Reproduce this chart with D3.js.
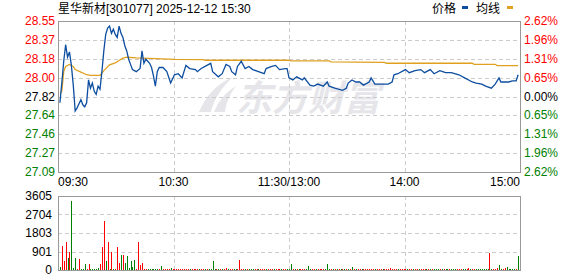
<!DOCTYPE html>
<html>
<head>
<meta charset="utf-8">
<style>
  body { margin: 0; background: #fff; }
  svg text { font-family: "Liberation Sans", Arial, "Noto Sans CJK SC", sans-serif; font-size: 12px; }
  .grid { stroke: #cccccc; stroke-dasharray: 4,3; shape-rendering: crispEdges; }
  .frame { fill: none; stroke: #999; shape-rendering: crispEdges; }
</style>
</head>
<body>
<script src="https://cdn.jsdelivr.net/npm/d3@7"></script>
<script>
// ---- data ----
var title = "星华新材[301077] 2025-12-12 15:30";
var prevClose = 27.82;
var priceTicks = ["28.55", "28.37", "28.18", "28.00", "27.82", "27.64", "27.46", "27.27", "27.09"];
var pctTicks = [2.62, 1.96, 1.31, 0.65, 0, -0.65, -1.31, -1.96, -2.62];
var volTicks = [3605, 2704, 1803, 901, 0];
var timeLabels = ["09:30", "10:30", "11:30/13:00", "14:00", "15:00"];

// price line: minute index (0 = 09:30, 240 = 15:00) and price
var priceMin = [0, 1, 2, 3, 4, 5, 6, 7, 8, 9, 10, 11, 12, 13, 14, 15, 16, 17, 18, 19,
  20, 21, 22, 23, 24, 25, 26, 27, 28, 29, 30, 31, 32, 33, 34, 35, 36, 37, 38, 40,
  42, 43, 44, 45, 46, 47, 48, 49, 50, 51, 52, 54, 56, 58, 60, 62, 64, 66, 68, 71,
  72, 74, 77, 79, 80, 83, 85, 87, 89, 90, 92, 93, 95, 97, 99, 101, 104, 107, 108, 111,
  113, 115, 118, 119, 120, 122, 124, 127, 128, 131, 133, 135, 138, 140, 141, 144, 148, 150, 151, 153,
  155, 157, 159, 162, 163, 165, 168, 172, 174, 175, 177, 181, 183, 186, 189, 191, 194, 196, 199, 202,
  205, 209, 212, 216, 218, 221, 223, 226, 228, 230, 231, 235, 237, 239, 240];
var priceVal = [27.76, 27.95, 28.16, 28.32, 28.20, 28.25, 28.12, 27.93, 27.68, 27.71, 27.75, 27.79, 27.74, 27.72, 27.76, 27.98, 27.90, 27.95, 27.87, 27.84,
  27.92, 27.89, 28.06, 28.26, 28.42, 28.48, 28.50, 28.43, 28.47, 28.42, 28.39, 28.50, 28.43, 28.39, 28.31, 28.26, 28.18, 28.13, 28.08, 28.06,
  28.09, 28.26, 28.14, 28.18, 28.16, 28.14, 28.10, 28.02, 27.92, 28.06, 28.10, 28.10, 28.06, 27.95, 28.03, 28.04, 28.00, 28.12, 28.09, 28.08,
  28.06, 28.09, 28.12, 28.14, 28.06, 28.01, 28.04, 28.13, 28.11, 28.06, 28.03, 28.11, 28.16, 28.09, 28.11, 28.08, 28.06, 28.04, 28.09, 28.11,
  28.12, 28.08, 28.09, 28.09, 28.00, 27.98, 28.01, 27.98, 28.00, 27.93, 27.92, 27.94, 27.92, 27.96, 27.92, 27.90, 27.88, 27.90, 27.95, 27.98,
  27.96, 27.96, 27.93, 27.96, 28.00, 27.94, 27.94, 27.94, 27.96, 28.03, 28.04, 28.08, 28.05, 28.07, 28.08, 28.05, 28.08, 28.04, 28.07, 28.05,
  28.05, 28.03, 28.00, 27.96, 27.95, 27.94, 27.92, 27.90, 27.94, 28.00, 27.96, 27.96, 27.97, 27.97, 28.03];

// average price line
var avgMin = [0, 1, 2, 3, 5, 7, 8, 11, 14, 16, 21, 23, 26, 29, 31, 33, 35, 40, 50, 60,
  75, 76, 120, 121, 141, 142, 170, 171, 216, 217, 228, 229, 240];
var avgVal = [27.85, 27.87, 28.06, 28.11, 28.13, 28.11, 28.08, 28.056, 28.03, 28.024, 28.024, 28.07, 28.125, 28.145, 28.167, 28.19, 28.199, 28.193, 28.186, 28.179,
  28.176, 28.17, 28.17, 28.163, 28.163, 28.154, 28.15, 28.141, 28.141, 28.131, 28.131, 28.118, 28.118];

// volume per minute (lots), and its direction: + up (red), - down (green)
var volume = [150, 1180, 440, 1380, 590, 890, 3360, 100, 590, 65, 540, 50, 50, 290, 50, 270, 50, 50, 50, 50,
  100, 295, 1100, 2380, 460, 1350, 50, 900, 50, 50, 1100, 345, 740, 740, 345, 690, 100, 440, 165, 490,
  50, 1380, 245, 345, 50, 50, 50, 50, 50, 50,
  65, 40, 40, 205, 40, 40, 40, 40, 110, 40, 40, 40, 40, 40, 50, 40, 40, 40, 40, 40,
  40, 40, 40, 40, 65, 40, 40, 40, 40, 40, 440, 40, 40, 40, 40, 40, 40, 110, 40, 40,
  40, 40, 40, 40, 490, 40, 40, 40, 40, 40,
  65, 65, 40, 40, 40, 40, 40, 40, 40, 40, 40, 40, 40, 40, 40, 40, 40, 40, 40, 40,
  40, 270, 40, 40, 40, 40, 40, 40, 40, 40, 180, 40, 40, 40, 40, 40, 40, 40, 40, 40,
  270, 40, 40, 40, 40, 40, 40, 40, 40, 40,
  40, 40, 40, 130, 65, 40, 40, 40, 40, 40, 40, 40, 40, 40, 40, 40, 40, 40, 40, 40,
  40, 40, 40, 120, 40, 40, 40, 40, 40, 40, 40, 40, 40, 40, 40, 40, 40, 40, 40, 40,
  40, 40, 40, 40, 40, 40, 40, 40, 40, 40,
  40, 40, 40, 40, 40, 40, 65, 40, 40, 40, 40, 40, 40, 40, 110, 40, 40, 40, 40, 40,
  40, 40, 40, 40, 40, 810, 65, 40, 40, 110, 220, 40, 40, 110, 170, 40, 65, 40, 40, 40,
  660];
var volDir =
  "-+++-+---+" + "+---++----" + "-+++-+-+-+" + "++-+------" + "++++++----" +
  "--+-++++-+" + "++++++++-+" + "+++-++-+--" + "--+-+-++-+" + "+--++++-+-" +
  "--++-+++-+" + "++-+++-++-" + "--+-+-+++-" + "--++-++++-" + "--+-+-+-+-" +
  "+-+-+-++-+" + "+++++-+++-" + "+++++++-++" + "++-++-++-+" + "++-+-+---+" +
  "-+--+---++" + "+--++-++--" + "-----+-++" + "+--++-----" + "+";

// ---- layout ----
var W = 578, H = 276;
var L = 58, R = 520;
var pTop = 21, pBot = 172, vTop = 196, vBot = 270;

var svg = d3.select("body").append("svg")
    .attr("width", W)
    .attr("height", H);

var x = d3.scaleLinear().domain([-1, 241]).range([L, R]);
var xq = d3.scalePoint().domain(timeLabels).range([L, R]);
var pct = d3.scaleLinear().domain([-2.62, 2.62]).range([pBot, pTop]);
var y = d3.scaleLinear()
    .domain([prevClose * (1 - 0.0262), prevClose * (1 + 0.0262)])
    .range([pBot, pTop]);
var yv = d3.scaleLinear().domain([0, 3605]).range([vBot, vTop]);

function tickColor(v) { return v > 0 ? "#f00" : v < 0 ? "#008000" : "#000"; }

// watermark (logo swoosh + name)
var wm = svg.append("g").style("fill", "#e6e6ea");
wm.append("path").attr("d", "M199,112 C206,96 216,84 233,77 C222,87 214,99 211,112 Z");
wm.append("path").attr("d", "M214,112 C219,100 226,92 236,86 C230,94 226,103 225,112 Z");
wm.append("text")
    .attr("x", 236).attr("y", 111)
    .style("font-size", "36px")
    .style("font-weight", "bold")
    .style("font-style", "italic")
    .text("东方财富");

// title + legend
svg.append("text").attr("x", L).attr("y", 13).style("fill", "#000").text(title);
var leg = svg.append("g");
leg.append("text").attr("x", 432).attr("y", 13).text("价格");
leg.append("rect").attr("x", 462).attr("y", 6).attr("width", 6).attr("height", 3).style("fill", "#0d4ea0");
leg.append("text").attr("x", 476).attr("y", 13).text("均线");
leg.append("rect").attr("x", 507).attr("y", 6).attr("width", 6).attr("height", 3).style("fill", "#e0a020");

// price grid
var gp = svg.append("g");
gp.selectAll(".hg").data(pctTicks.slice(1, -1)).enter().append("line")
    .attr("class", "grid")
    .attr("x1", L).attr("x2", R)
    .attr("y1", function(d) { return Math.round(pct(d)) + 0.5; })
    .attr("y2", function(d) { return Math.round(pct(d)) + 0.5; });
gp.selectAll(".vg").data(timeLabels.slice(1, -1)).enter().append("line")
    .attr("class", "grid")
    .attr("x1", function(d) { return Math.round(xq(d)) + 0.5; })
    .attr("x2", function(d) { return Math.round(xq(d)) + 0.5; })
    .attr("y1", pTop).attr("y2", pBot);

// volume grid
var gv = svg.append("g");
gv.selectAll(".hg").data(volTicks.slice(1, -1)).enter().append("line")
    .attr("class", "grid")
    .attr("x1", L).attr("x2", R)
    .attr("y1", function(d) { return Math.round(yv(d)) + 0.5; })
    .attr("y2", function(d) { return Math.round(yv(d)) + 0.5; });
gv.selectAll(".vg").data(timeLabels.slice(1, -1)).enter().append("line")
    .attr("class", "grid")
    .attr("x1", function(d) { return Math.round(xq(d)) + 0.5; })
    .attr("x2", function(d) { return Math.round(xq(d)) + 0.5; })
    .attr("y1", vTop).attr("y2", vBot);

// left price labels / right pct labels
svg.append("g").selectAll("text").data(pctTicks).enter().append("text")
    .attr("x", 55)
    .attr("y", function(d) { return pct(d); })
    .attr("dy", "0.35em")
    .attr("text-anchor", "end")
    .style("fill", tickColor)
    .text(function(d, i) { return priceTicks[i]; });
svg.append("g").selectAll("text").data(pctTicks).enter().append("text")
    .attr("x", 524)
    .attr("y", function(d) { return pct(d); })
    .attr("dy", "0.35em")
    .style("fill", tickColor)
    .text(function(d) { return Math.abs(d).toFixed(2) + "%"; });

// time labels
svg.append("g").selectAll("text").data(timeLabels).enter().append("text")
    .attr("x", function(d) { return xq(d); })
    .attr("y", 186)
    .attr("text-anchor", function(d, i) { return i == 0 ? "start" : i == timeLabels.length - 1 ? "end" : "middle"; })
    .text(function(d) { return d; });

// volume labels
svg.append("g").selectAll("text").data(volTicks).enter().append("text")
    .attr("x", 52)
    .attr("y", function(d) { return yv(d); })
    .attr("dy", "0.35em")
    .attr("text-anchor", "end")
    .text(function(d) { return d; });

// volume bars
svg.append("g").selectAll("rect").data(volume).enter().append("rect")
    .attr("x", function(d, i) { return Math.round(x(i)); })
    .attr("width", 1)
    .attr("y", function(d) { return Math.round(yv(d)); })
    .attr("height", function(d) { return Math.max(1, vBot - Math.round(yv(d))); })
    .style("shape-rendering", "crispEdges")
    .style("fill", function(d, i) { return volDir[i] == "+" ? "#f00" : "#008000"; });

// avg + price lines
var line = d3.line()
    .x(function(d) { return x(d[0]); })
    .y(function(d) { return y(d[1]); });
svg.append("path")
    .datum(avgMin.map(function(m, i) { return [m, avgVal[i]]; }))
    .attr("d", line)
    .style("fill", "none")
    .style("stroke", "#e0a020")
    .style("stroke-width", 1.3);
svg.append("path")
    .datum(priceMin.map(function(m, i) { return [m, priceVal[i]]; }))
    .attr("d", line)
    .style("fill", "none")
    .style("stroke", "#0d4ea0")
    .style("stroke-width", 1.3);

// frames
svg.append("rect").attr("class", "frame")
    .attr("x", L + 0.5).attr("y", pTop + 0.5)
    .attr("width", R - L).attr("height", pBot - pTop);
svg.append("rect").attr("class", "frame")
    .attr("x", L + 0.5).attr("y", vTop + 0.5)
    .attr("width", R - L).attr("height", vBot - vTop);
</script>
</body>
</html>
